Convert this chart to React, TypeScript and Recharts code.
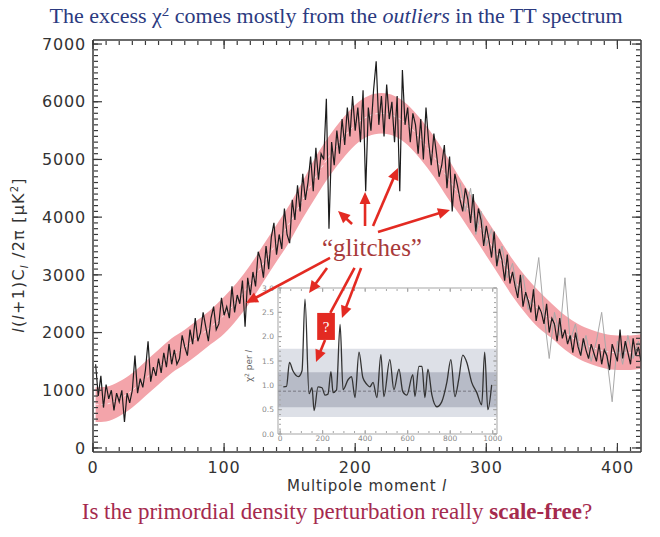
import React from 'react';
import {
  ComposedChart,
  LineChart,
  Line,
  Area,
  XAxis,
  YAxis,
  ReferenceLine,
  ReferenceArea,
} from 'recharts';

// TT spectrum, one value every second multipole starting at l = 2
const ttStart = 2;
const ttStep = 2;
const ttValues = [
  1450, 900, 1250, 700, 1100, 850, 1000, 650, 950, 800,
  1000, 450, 950, 780, 1000, 1600, 950, 1200, 1050, 1350,
  1850, 1150, 1400, 1250, 1550, 1300, 1650, 1400, 1800, 1450,
  1700, 1450, 1550, 1950, 1750, 1600, 2050, 1800, 2250, 1850,
  2000, 2350, 2100, 1850, 2250, 2450, 2050, 2150, 2600, 2300,
  2450, 2250, 2800, 2350, 2650, 2500, 2900, 2100, 2950, 2650,
  3050, 2800, 3400, 3250, 2950, 3500, 3100, 3650, 3900, 3350,
  3700, 3450, 4150, 3700, 3550, 4300, 3950, 4550, 4100, 4750,
  4300, 4600, 5050, 4450, 5200, 4650, 5100, 5000, 6050, 3800,
  5300, 4900, 5500, 5100, 5700, 5250, 5900, 5400, 6100, 5500,
  5900, 5300, 6200, 4450, 5900, 5500, 6200, 6700, 5600, 6100,
  5400, 6300, 5700, 6000, 5300, 6100, 4450, 6550, 5600, 5900,
  5300, 5800, 5600, 5100, 5700, 5000, 5900, 5300, 4900, 5450,
  5100, 4700, 4900, 5250, 4500, 5050, 4100, 4750, 4550, 4300,
  4100, 4500, 4300, 3900, 4400, 3750, 4150, 3950, 3500, 3850,
  3600, 3300, 3750, 3150, 3450, 3250, 2900, 3350, 2850, 3050,
  2800, 2600, 3000, 2450, 2700, 2550, 2350, 2750, 2200, 2450,
  2350, 2150, 2500, 2000, 2250, 2150, 1850, 2250, 1900, 2050,
  1800, 1950, 1650, 2000, 1750, 1600, 1900, 1700, 1550, 1800,
  1650, 1500, 1800, 1450, 1700, 1600, 1350, 1800, 1650, 1500,
  2050, 1550, 1850, 1650, 1450, 1900, 1600, 1750, 1500, 1650,
];

// pink model band
const bandL = [2, 10, 20, 30, 40, 50, 60, 70, 80, 90, 100, 110, 120, 130, 140, 150, 160, 170, 180, 190, 200,
  210, 220, 230, 240, 250, 260, 270, 280, 290, 300, 310, 320, 330, 340, 350, 360, 370, 380, 390, 400, 410, 420];
const bandLow = [450, 460, 550, 700, 900, 1100, 1300, 1450, 1620, 1800, 1980, 2230, 2530, 2880, 3230, 3580, 3980,
  4350, 4700, 5000, 5250, 5400, 5450, 5400, 5250, 5000, 4700, 4350, 4030, 3680, 3330, 2980, 2630, 2330, 2080,
  1900, 1700, 1550, 1450, 1380, 1350, 1350, 1380];
const bandHigh = [1050, 1060, 1150, 1300, 1500, 1700, 1900, 2050, 2220, 2400, 2620, 2870, 3170, 3520, 3870, 4220,
  4620, 5050, 5400, 5700, 5950, 6100, 6150, 6100, 5950, 5700, 5400, 5050, 4670, 4320, 3970, 3620, 3270, 2970,
  2720, 2500, 2300, 2150, 2050, 1980, 1950, 1950, 1980];
const bandMid = [750, 760, 850, 1000, 1200, 1400, 1600, 1750, 1920, 2100, 2300, 2550, 2850, 3200, 3550, 3900, 4300,
  4700, 5050, 5350, 5600, 5750, 5800, 5750, 5600, 5350, 5050, 4700, 4350, 4000, 3650, 3300, 2950, 2650, 2400,
  2200, 2000, 1850, 1750, 1680, 1650, 1650, 1680];

// lighter grey points visible at high l
const greyL = [280, 284, 288, 292, 296, 300, 304, 308, 312, 316, 320, 324, 328, 332, 336, 340, 344, 348, 352, 356,
  360, 364, 368, 372, 376, 380, 384, 388, 392, 396, 400, 404, 408, 412, 416, 420];
const greyValues = [4600, 4100, 4500, 3700, 4100, 3500, 3800, 3150, 3500, 2950, 3200, 2700, 3000, 2400, 2650, 3300,
  2300, 1550, 2350, 1950, 2950, 1850, 2150, 1600, 1950, 1500, 1850, 2350, 1550, 800, 1850, 1450, 1950, 1550,
  1850, 1600];

// inset: chi^2 per l
const chiL = [15, 30, 44, 60, 86, 103, 117, 136, 150, 160, 178, 197, 211, 225, 239, 249, 265, 282, 296, 320,
  336, 352, 371, 389, 408, 422, 437, 455, 474, 488, 516, 535, 559, 577, 596, 624, 634, 653, 667, 681,
  695, 714, 737, 760, 784, 803, 822, 840, 859, 878, 901, 925, 948, 962, 977, 995];
const chiValues = [0.97, 0.98, 1.47, 1.3, 1.18, 1.3, 2.77, 0.83, 0.95, 0.48, 0.97, 0.95, 0.8, 0.82, 1.28, 0.85,
  0.9, 2.25, 0.91, 1.12, 1.18, 0.75, 1.68, 1.16, 1.02, 0.97, 1.06, 0.75, 1.63, 0.77, 1.53, 0.91, 1.33, 0.87,
  0.8, 1.22, 0.77, 1.39, 1.39, 0.75, 1.33, 0.8, 0.56, 0.66, 1.06, 1.53, 0.77, 1.12, 1.62, 1.47, 1.06, 0.85,
  0.6, 1.68, 0.5, 1.01];
const chiLightBand = [0.35, 1.75];
const chiDarkBand = [0.55, 1.27];
const chiMean = 0.88;

const xTicks = [0, 100, 200, 300, 400];
const yTicks = [0, 1000, 2000, 3000, 4000, 5000, 6000, 7000];
const xMinorTicks = Array.from({ length: 42 }, (_, i) => i * 10);
const yMinorTicks = Array.from({ length: 71 }, (_, i) => i * 100);
const insetXTicks = [0, 200, 400, 600, 800, 1000];
const insetYTicks = [0, 0.5, 1, 1.5, 2, 2.5, 3];
const insetXMinor = Array.from({ length: 21 }, (_, i) => i * 50);
const insetYMinor = Array.from({ length: 31 }, (_, i) => i / 10);

// annotation arrows, in (l, value) coordinates of the main plot
const arrows = [
  { from: [180.8, 3293], to: [116.7, 2513], head: true },
  { from: [197.6, 3882], to: [186.9, 4107], head: true },
  { from: [207.5, 3847], to: [207.5, 4437], head: true },
  { from: [213.6, 3847], to: [232.6, 4853], head: true },
  { from: [217.4, 3743], to: [272.3, 4125], head: true },
  { from: [178.5, 3120], to: [164.8, 2686], head: true },
  { from: [204.5, 3120], to: [189.9, 2253], head: true },
  { from: [199.5, 3120], to: [181.0, 2340], head: false },
  { from: [177.0, 1872], to: [170.1, 1490], head: true },
];

const ttData = ttValues.map((v, i) => ({ l: ttStart + i * ttStep, v }));
const bandData = bandL.map((l, i) => ({ l, range: [bandLow[i], bandHigh[i]], mid: bandMid[i] }));
const greyData = greyL.map((l, i) => ({ l, v: greyValues[i] }));
const chiData = chiL.map((l, i) => ({ l, v: chiValues[i] }));

const FRAME = '#3a3a3a';
const RED = '#e32a22';
const SANS = '"DejaVu Sans", sans-serif';
const SERIF = '"Liberation Serif", "Times New Roman", serif';

const X = { type: 'number' as const, domain: [0, 418], allowDataOverflow: true, dataKey: 'l' };
const Y = { type: 'number' as const, domain: [-70, 7070], allowDataOverflow: true };
const IX = { type: 'number' as const, domain: [-10, 1020], allowDataOverflow: true, dataKey: 'l' };
const IY = { type: 'number' as const, domain: [0, 3], allowDataOverflow: true };
// mirrored tick-only axes: 1px thick so that stacked ones stay on the frame
const MX = { mirror: true, height: 1, interval: 0 as const, tick: () => <g /> };
const MY = { mirror: true, width: 1, interval: 0 as const, tick: () => <g /> };

function arrowShape(head: boolean) {
  return (p: any) => {
    const { x1, y1, x2, y2 } = p;
    const a = Math.atan2(y2 - y1, x2 - x1);
    const len = 12;
    const half = 5.5;
    const bx = x2 - len * Math.cos(a);
    const by = y2 - len * Math.sin(a);
    const nx = -Math.sin(a) * half;
    const ny = Math.cos(a) * half;
    return (
      <g>
        <line
          x1={x1}
          y1={y1}
          x2={head ? bx + 2 * Math.cos(a) : x2}
          y2={head ? by + 2 * Math.sin(a) : y2}
          stroke={RED}
          strokeWidth={2.6}
        />
        {head && <polygon points={`${x2},${y2} ${bx + nx},${by + ny} ${bx - nx},${by - ny}`} fill={RED} />}
      </g>
    );
  };
}

const YTitle = () => (
  <text
    transform="translate(24,255) rotate(-90)"
    textAnchor="middle"
    fontFamily={SANS}
    fontSize={16}
    fill="#333"
    letterSpacing={1.2}
  >
    <tspan fontStyle="italic">l</tspan>(<tspan fontStyle="italic">l</tspan>+1)C
    <tspan dy={4} fontSize={10} fontStyle="italic">l</tspan>
    <tspan dy={-4}> /2π [μK</tspan>
    <tspan dy={-6} fontSize={10}>2</tspan>
    <tspan dy={6}>]</tspan>
  </text>
);

const XTitle = () => (
  <text x={367} y={491} textAnchor="middle" fontFamily={SANS} fontSize={15} fill="#333" letterSpacing={0.8}>
    Multipole moment <tspan fontStyle="italic">l</tspan>
  </text>
);

const InsetYTitle = () => (
  <text transform="translate(252,366) rotate(-90)" textAnchor="middle" fontFamily={SANS} fontSize={9} fill="#666">
    χ<tspan dy={-3} fontSize={6}>2</tspan>
    <tspan dy={3}> per </tspan>
    <tspan fontStyle="italic">l</tspan>
  </text>
);

function MainChart() {
  const tickLine = { stroke: FRAME, strokeWidth: 1.2 };
  const frame = { stroke: FRAME, strokeWidth: 1.5 };
  const font = { fontSize: 16, fill: '#333', fontFamily: SANS, letterSpacing: 0.8 };
  return (
    <ComposedChart width={660} height={537} margin={{ top: 40, right: 19, bottom: 40, left: 33 }}>
      <XAxis
        xAxisId="x"
        {...X}
        ticks={xTicks}
        interval={0}
        tickLine={false}
        tickSize={0}
        tickMargin={10}
        axisLine={frame}
        height={45}
        tick={font}
        label={XTitle}
      />
      <XAxis xAxisId="xbM" {...X} {...MX} ticks={xTicks} tickSize={9} tickLine={tickLine} axisLine={false} />
      <XAxis xAxisId="xbm" {...X} {...MX} ticks={xMinorTicks} tickSize={4} tickLine={tickLine} axisLine={false} />
      <XAxis xAxisId="xtM" {...X} {...MX} orientation="top" ticks={xTicks} tickSize={9} tickLine={tickLine} axisLine={frame} />
      <XAxis xAxisId="xtm" {...X} {...MX} orientation="top" ticks={xMinorTicks} tickSize={4} tickLine={tickLine} axisLine={false} />
      <YAxis
        yAxisId="y"
        {...Y}
        ticks={yTicks}
        interval={0}
        tickLine={false}
        tickSize={0}
        tickMargin={7}
        axisLine={frame}
        width={60}
        tick={font}
        label={YTitle}
      />
      <YAxis yAxisId="ylM" {...Y} {...MY} ticks={yTicks} tickSize={9} tickLine={tickLine} axisLine={false} />
      <YAxis yAxisId="ylm" {...Y} {...MY} ticks={yMinorTicks} tickSize={4} tickLine={tickLine} axisLine={false} />
      <YAxis yAxisId="yrM" {...Y} {...MY} orientation="right" ticks={yTicks} tickSize={9} tickLine={tickLine} axisLine={frame} />
      <YAxis yAxisId="yrm" {...Y} {...MY} orientation="right" ticks={yMinorTicks} tickSize={4} tickLine={tickLine} axisLine={false} />

      <Area
        xAxisId="x"
        yAxisId="y"
        data={bandData}
        dataKey="range"
        type="monotone"
        stroke="none"
        fill="#f3a4aa"
        fillOpacity={1}
        isAnimationActive={false}
        activeDot={false}
      />
      <Line
        xAxisId="x"
        yAxisId="y"
        data={bandData}
        dataKey="mid"
        type="monotone"
        stroke="#ffffff"
        strokeOpacity={0.7}
        strokeDasharray="3 3"
        strokeWidth={1}
        dot={false}
        activeDot={false}
        isAnimationActive={false}
      />
      <Line
        xAxisId="x"
        yAxisId="y"
        data={greyData}
        dataKey="v"
        stroke="#a9a9a9"
        strokeWidth={1}
        dot={false}
        activeDot={false}
        isAnimationActive={false}
      />
      <Line
        xAxisId="x"
        yAxisId="y"
        data={ttData}
        dataKey="v"
        stroke="#1c1c1c"
        strokeWidth={1.2}
        dot={false}
        activeDot={false}
        isAnimationActive={false}
      />

      <ReferenceArea
        xAxisId="x"
        yAxisId="y"
        x1={171}
        x2={184.5}
        y1={1872}
        y2={2340}
        fill={RED}
        fillOpacity={1}
        stroke="none"
        label={{ value: '?', position: 'center', fill: '#fff', fontSize: 15, fontFamily: SERIF }}
      />
      {arrows.map((a, i) => (
        <ReferenceLine
          key={i}
          xAxisId="x"
          yAxisId="y"
          segment={[
            { x: a.from[0], y: a.from[1] },
            { x: a.to[0], y: a.to[1] },
          ]}
          shape={arrowShape(a.head)}
        />
      ))}
    </ComposedChart>
  );
}

function InsetChart() {
  const tl = { stroke: '#a5a5a5', strokeWidth: 1 };
  const fr = { stroke: '#a5a5a5', strokeWidth: 1 };
  const tickFont = { fontSize: 7.5, fill: '#8a8a8a', fontFamily: SANS };
  return (
    <LineChart width={660} height={537} data={chiData} margin={{ top: 288, right: 163, bottom: 89, left: 253 }}>
      <XAxis xAxisId="x" {...IX} ticks={insetXTicks} interval={0} tickLine={false} tickSize={0} tickMargin={2} axisLine={fr} height={14} tick={tickFont} />
      <XAxis xAxisId="xbM" {...IX} {...MX} ticks={insetXTicks} tickSize={4} tickLine={tl} axisLine={false} />
      <XAxis xAxisId="xbm" {...IX} {...MX} ticks={insetXMinor} tickSize={2} tickLine={tl} axisLine={false} />
      <XAxis xAxisId="xtM" {...IX} {...MX} orientation="top" ticks={insetXTicks} tickSize={4} tickLine={tl} axisLine={fr} />
      <XAxis xAxisId="xtm" {...IX} {...MX} orientation="top" ticks={insetXMinor} tickSize={2} tickLine={tl} axisLine={false} />
      <YAxis
        yAxisId="y"
        {...IY}
        ticks={insetYTicks}
        interval={0}
        tickLine={false}
        tickSize={0}
        tickMargin={4}
        axisLine={fr}
        width={25}
        tick={tickFont}
        tickFormatter={(v: number) => v.toFixed(1)}
        label={InsetYTitle}
      />
      <YAxis yAxisId="ylM" {...IY} {...MY} ticks={insetYTicks} tickSize={4} tickLine={tl} axisLine={false} />
      <YAxis yAxisId="ylm" {...IY} {...MY} ticks={insetYMinor} tickSize={2} tickLine={tl} axisLine={false} />
      <YAxis yAxisId="yrM" {...IY} {...MY} orientation="right" ticks={insetYTicks} tickSize={4} tickLine={tl} axisLine={fr} />
      <YAxis yAxisId="yrm" {...IY} {...MY} orientation="right" ticks={insetYMinor} tickSize={2} tickLine={tl} axisLine={false} />

      <ReferenceArea xAxisId="x" yAxisId="y" y1={chiLightBand[0]} y2={chiLightBand[1]} fill="#dde0e7" fillOpacity={1} stroke="none" />
      <ReferenceArea xAxisId="x" yAxisId="y" y1={chiDarkBand[0]} y2={chiDarkBand[1]} fill="#b7bbc7" fillOpacity={1} stroke="none" />
      <ReferenceLine xAxisId="x" yAxisId="y" y={chiMean} stroke="#6a6a72" strokeDasharray="3 2" strokeWidth={0.8} />
      <Line
        xAxisId="x"
        yAxisId="y"
        dataKey="v"
        type="monotone"
        stroke="#333"
        strokeWidth={1.3}
        dot={false}
        activeDot={false}
        isAnimationActive={false}
      />
    </LineChart>
  );
}

export default function App() {
  const abs = { position: 'absolute' as const, left: 0, top: 0 };
  return (
    <div style={{ position: 'relative', width: 660, height: 537, margin: -8, background: '#fff', overflow: 'hidden' }}>
      <div style={abs}>
        <InsetChart />
      </div>
      <div style={abs}>
        <MainChart />
      </div>
      <div
        style={{
          position: 'absolute',
          left: 6,
          top: 3,
          width: 660,
          textAlign: 'center',
          fontFamily: SERIF,
          fontSize: 22,
          lineHeight: '26px',
          color: '#2b3a80',
          whiteSpace: 'nowrap',
        }}
      >
        The excess χ<span style={{ fontSize: 15, position: 'relative', top: -7 }}>2</span> comes mostly from the{' '}
        <i>outliers</i> in the TT spectrum
      </div>
      <div
        style={{
          position: 'absolute',
          left: 322,
          top: 234,
          fontFamily: SERIF,
          fontSize: 25,
          lineHeight: '28px',
          color: '#a83a3a',
          whiteSpace: 'nowrap',
        }}
      >
        “glitches”
      </div>
      <div
        style={{
          position: 'absolute',
          left: 7,
          top: 498,
          width: 660,
          textAlign: 'center',
          fontFamily: SERIF,
          fontSize: 23,
          lineHeight: '28px',
          color: '#a52a4e',
          whiteSpace: 'nowrap',
        }}
      >
        Is the primordial density perturbation really <b>scale-free</b>?
      </div>
    </div>
  );
}
